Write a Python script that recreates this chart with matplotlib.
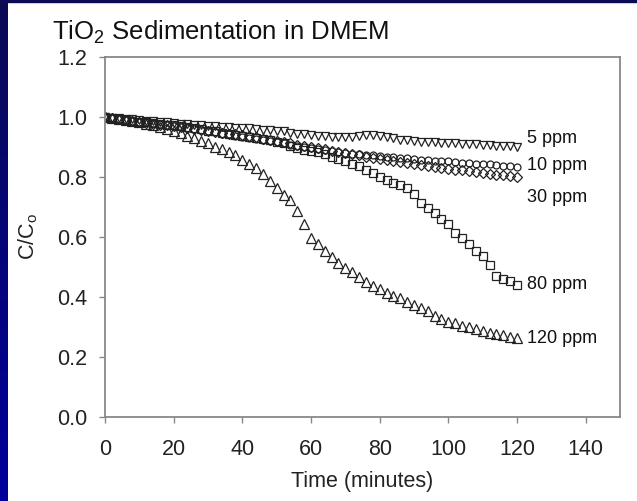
import matplotlib.pyplot as plt
import numpy as np
from matplotlib.patches import Rectangle

# sampling times (minutes)
time_min = [0, 2, 4, 6, 8, 10, 12, 14, 16, 18, 20, 22, 24, 26, 28, 30,
            32, 34, 36, 38, 40, 42, 44, 46, 48, 50, 52, 54, 56, 58, 60,
            62, 64, 66, 68, 70, 72, 74, 76, 78, 80, 82, 84, 86, 88, 90,
            92, 94, 96, 98, 100, 102, 104, 106, 108, 110, 112, 114, 116, 118, 120]

c_5ppm = [1.000, 0.998, 0.996, 0.994, 0.992, 0.990,
          0.988, 0.986, 0.984, 0.982, 0.980,
          0.978, 0.976, 0.975, 0.973, 0.971,
          0.970, 0.968, 0.967, 0.965, 0.963,
          0.962, 0.960, 0.958, 0.957, 0.955,
          0.952, 0.948, 0.945, 0.942, 0.940,
          0.938, 0.937, 0.935, 0.934, 0.933,
          0.934, 0.936, 0.940, 0.941, 0.938,
          0.935, 0.930, 0.925, 0.922, 0.920,
          0.918, 0.917, 0.916, 0.915, 0.914,
          0.912, 0.911, 0.910, 0.909, 0.907,
          0.906, 0.905, 0.903, 0.902, 0.900]

c_10ppm = [1.000, 0.997, 0.994, 0.991, 0.988, 0.985,
           0.982, 0.979, 0.976, 0.973, 0.970,
           0.966, 0.963, 0.959, 0.956, 0.952,
           0.949, 0.945, 0.942, 0.938, 0.935,
           0.931, 0.927, 0.923, 0.920, 0.916,
           0.912, 0.908, 0.905, 0.901, 0.897,
           0.893, 0.890, 0.887, 0.884, 0.881,
           0.878, 0.876, 0.874, 0.872, 0.870,
           0.868, 0.866, 0.864, 0.862, 0.860,
           0.858, 0.856, 0.855, 0.853, 0.852,
           0.850, 0.848, 0.847, 0.845, 0.844,
           0.842, 0.840, 0.838, 0.836, 0.834]

c_30ppm = [1.000, 0.997, 0.994, 0.990, 0.987, 0.984,
           0.981, 0.978, 0.975, 0.972, 0.969,
           0.966, 0.963, 0.960, 0.957, 0.954,
           0.951, 0.948, 0.945, 0.942, 0.939,
           0.936, 0.932, 0.928, 0.924, 0.920,
           0.916, 0.912, 0.908, 0.904, 0.900,
           0.896, 0.892, 0.888, 0.884, 0.880,
           0.876, 0.872, 0.868, 0.864, 0.860,
           0.856, 0.852, 0.849, 0.846, 0.843,
           0.840, 0.837, 0.834, 0.831, 0.828,
           0.825, 0.822, 0.819, 0.816, 0.813,
           0.810, 0.808, 0.806, 0.803, 0.800]

c_80ppm = [1.000, 0.997, 0.994, 0.991, 0.988, 0.985,
           0.983, 0.980, 0.977, 0.975, 0.972,
           0.969, 0.966, 0.962, 0.959, 0.955,
           0.952, 0.948, 0.944, 0.941, 0.937,
           0.934, 0.930, 0.927, 0.923, 0.918,
           0.912, 0.905, 0.897, 0.890, 0.886,
           0.882, 0.877, 0.868, 0.860, 0.852,
           0.845, 0.836, 0.823, 0.812, 0.800,
           0.790, 0.781, 0.772, 0.763, 0.742,
           0.713, 0.696, 0.679, 0.661, 0.643,
           0.614, 0.596, 0.576, 0.554, 0.536,
           0.508, 0.470, 0.461, 0.452, 0.440]

c_120ppm = [1.000, 0.998, 0.995, 0.990, 0.987, 0.982,
            0.977, 0.972, 0.967, 0.960, 0.953,
            0.946, 0.938, 0.930, 0.920, 0.912,
            0.900, 0.893, 0.885, 0.872, 0.857,
            0.845, 0.830, 0.810, 0.787, 0.762,
            0.740, 0.722, 0.685, 0.645, 0.598,
            0.578, 0.552, 0.535, 0.515, 0.497,
            0.482, 0.466, 0.450, 0.438, 0.428,
            0.415, 0.405, 0.397, 0.384, 0.375,
            0.365, 0.352, 0.338, 0.328, 0.318,
            0.312, 0.305, 0.299, 0.293, 0.287,
            0.281, 0.277, 0.272, 0.268, 0.265]

labels = ['5 ppm', '10 ppm', '30 ppm', '80 ppm', '120 ppm']
label_y = [0.927, 0.837, 0.733, 0.443, 0.263]
markers = ['v', 'o', 'D', 's', '^']
sizes = [6, 5, 5, 5.5, 6.5]
series = [c_5ppm, c_10ppm, c_30ppm, c_80ppm, c_120ppm]

plt.rcParams['font.family'] = ['Liberation Sans', 'DejaVu Sans']

fig = plt.figure(figsize=(6.37, 5.01), dpi=100, facecolor='white')

# dark blue slide frame on the left and top
strip = fig.add_axes([0, 0, 7 / 637, 1])
strip.imshow(np.linspace(0, 1, 100).reshape(-1, 1), aspect='auto',
             cmap=plt.matplotlib.colors.LinearSegmentedColormap.from_list('b', ['#0a0a55', '#00009c']))
strip.axis('off')
fig.patches.append(Rectangle((0, 1 - 2 / 501), 1, 2 / 501, transform=fig.transFigure,
                             color='#0a0a55', zorder=5))

ax = fig.add_axes([105 / 637, 84 / 501, 515 / 637, 360 / 501])

for y, m, ms in zip(series, markers, sizes):
    ax.plot(time_min, y, linestyle='none', marker=m, markersize=ms,
            markerfacecolor='none', markeredgecolor='#222222', markeredgewidth=0.9)

for lab, ly in zip(labels, label_y):
    ax.text(123, ly, lab, fontsize=13, color='#111111', va='center', ha='left')

ax.set_xlim(0, 150)
ax.set_ylim(0, 1.2)
ax.set_xticks([0, 20, 40, 60, 80, 100, 120, 140])
ax.set_yticks([0.0, 0.2, 0.4, 0.6, 0.8, 1.0, 1.2])
ax.set_yticklabels(['0.0', '0.2', '0.4', '0.6', '0.8', '1.0', '1.2'])
for s in ax.spines.values():
    s.set_color('#888888')
    s.set_linewidth(1.3)
ax.tick_params(direction='out', length=4, width=1, color='#888888',
               labelsize=15.5, labelcolor='#222222')
ax.tick_params(axis='x', pad=12)
ax.tick_params(axis='y', pad=9)

ax.set_xlabel('Time (minutes)', fontsize=15.5, color='#222222', labelpad=8)
ax.set_ylabel('C/C$_\\mathregular{o}$', fontsize=15.5, color='#222222', labelpad=12)

fig.text(52 / 637, 1 - 40 / 501, 'TiO$_\\mathregular{2}$ Sedimentation in DMEM',
         fontsize=18.5, color='#111111', ha='left', va='baseline')

fig.savefig('out.png', dpi=100, facecolor='white')
